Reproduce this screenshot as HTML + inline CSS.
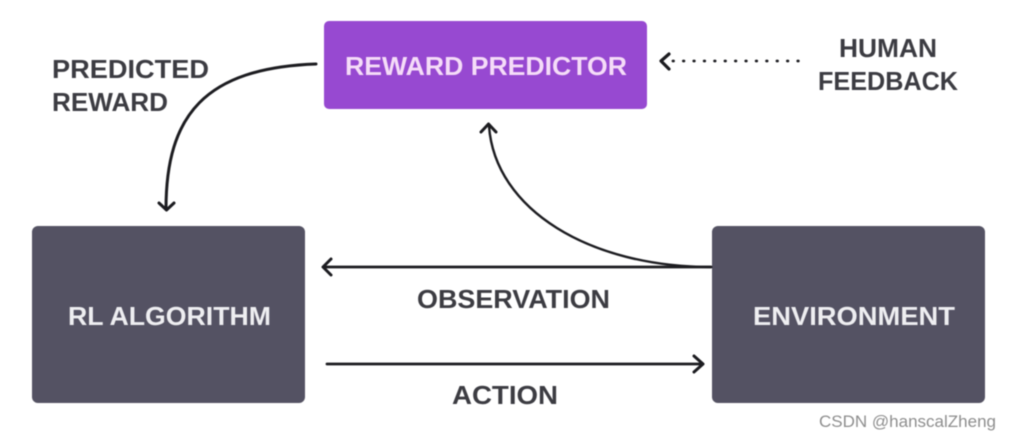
<!DOCTYPE html>
<html>
<head>
<meta charset="utf-8">
<style>
html,body{margin:0;padding:0;background:#fff;}
svg{display:block;filter:blur(0.5px);}
text{font-family:"Liberation Sans",sans-serif;font-weight:700;}
</style>
</head>
<body>
<svg width="1010" height="440" viewBox="0 0 1010 440" xmlns="http://www.w3.org/2000/svg">
<rect width="1010" height="440" fill="#ffffff"/>
<rect x="324" y="21" width="323" height="88" rx="5" fill="#9749d1"/>
<rect x="32" y="226" width="273" height="177" rx="6" fill="#545263"/>
<rect x="712" y="226" width="273" height="177" rx="6" fill="#545263"/>

<text x="345" y="75" font-size="26" fill="#f5dcf8" textLength="282" lengthAdjust="spacingAndGlyphs">REWARD PREDICTOR</text>
<text x="68" y="325" font-size="26" fill="#eeeef1" textLength="203" lengthAdjust="spacingAndGlyphs">RL ALGORITHM</text>
<text x="753" y="325" font-size="26" fill="#eeeef1" textLength="202" lengthAdjust="spacingAndGlyphs">ENVIRONMENT</text>

<g fill="#3c3c42" font-size="26">
<text x="52" y="78" textLength="157" lengthAdjust="spacingAndGlyphs">PREDICTED</text>
<text x="52" y="111" textLength="116" lengthAdjust="spacingAndGlyphs">REWARD</text>
<text x="839" y="57" textLength="98" lengthAdjust="spacingAndGlyphs">HUMAN</text>
<text x="818" y="90" textLength="140" lengthAdjust="spacingAndGlyphs">FEEDBACK</text>
<text x="417" y="308" textLength="193" lengthAdjust="spacingAndGlyphs">OBSERVATION</text>
<text x="452" y="404" textLength="106" lengthAdjust="spacingAndGlyphs">ACTION</text>
</g>

<g fill="none" stroke="#1c1c20" stroke-linecap="round" stroke-linejoin="round">
<path d="M316 64 C205 68 166 115 166 209" stroke-width="3"/>
<path d="M159 203 L166.500 210 L174 203" stroke-width="3"/>
<path d="M711 267 C590 267 495 210 489 126" stroke-width="2.400"/>
<path d="M481 132 L488.500 124 L496 132" stroke-width="3"/>
<path d="M711 267 L324 267" stroke-width="2.800"/>
<path d="M331 259 L323 267 L331 275" stroke-width="3"/>
<path d="M327 364 L702 364" stroke-width="2.800"/>
<path d="M694 356 L703 364 L694 372" stroke-width="3"/>
<path d="M669 54 L661 61 L669 69" stroke-width="3.200"/>
<path d="M673 61 L798.500 61" stroke-width="2.800" stroke-dasharray="0.5 9.9"/>
</g>

<text x="819" y="427" font-size="17" fill="#8e8e8e" style="font-weight:400" textLength="177" lengthAdjust="spacingAndGlyphs">CSDN @hanscalZheng</text>
</svg>
</body>
</html>
